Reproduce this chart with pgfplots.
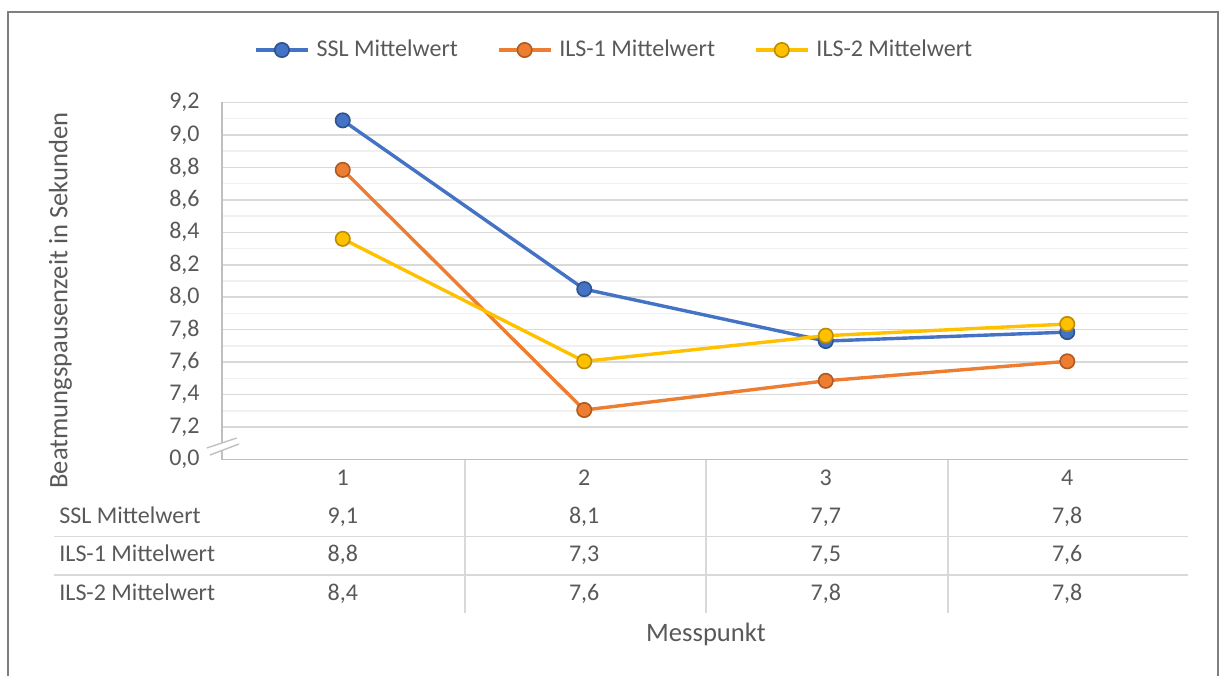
\documentclass[border=0pt]{standalone}
\usepackage{fontspec}
\setmainfont{Carlito}
\usepackage{pgfplots}
\pgfplotsset{compat=1.18}
\definecolor{txt}{HTML}{595959}
\definecolor{cBlue}{HTML}{4472C4}
\definecolor{cBlueD}{HTML}{2F528F}
\definecolor{cOr}{HTML}{ED7D31}
\definecolor{cOrD}{HTML}{AE5A21}
\definecolor{cYe}{HTML}{FFC000}
\definecolor{cYeD}{HTML}{BC8C00}
\definecolor{gridc}{HTML}{D9D9D9}
\definecolor{mgridc}{HTML}{F0F0F0}
\definecolor{axl}{HTML}{BFBFBF}
\definecolor{frame}{HTML}{7F7F7F}
\begin{document}
\begin{tikzpicture}[font=\fontsize{12}{14}\selectfont, text=txt]
\path[use as bounding box] (-111pt,-107.75pt) rectangle (498.5pt,229.75pt);
\begin{axis}[
  at={(0,0)}, anchor=south west,
  scale only axis, width=483pt, height=178.5pt,
  xmin=0.5, xmax=4.5, ymin=7.0, ymax=9.2,
  xtick={1,2,3,4},
  ytick={7,7.2,7.4,7.6,7.8,8,8.2,8.4,8.6,8.8,9,9.2},
  yticklabels={{0,0},{7,2},{7,4},{7,6},{7,8},{8,0},{8,2},{8,4},{8,6},{8,8},{9,0},{9,2}},
  minor ytick={7.3,7.5,7.7,7.9,8.1,8.3,8.5,8.7,8.9,9.1},
  ymajorgrids, yminorgrids,
  major grid style={gridc, line width=0.75pt},
  minor grid style={mgridc, line width=0.75pt},
  major tick length=0pt, minor tick length=0pt,
  axis line style={draw=none},
  /pgf/number format/assume math mode=true,
  tick label style={font=\fontsize{12}{14}\selectfont, text=txt},
  yticklabel style={anchor=east, inner sep=0pt, xshift=-11pt},
  xticklabel style={anchor=base, inner sep=0pt, yshift=-13.1pt},
  clip=false,
  legend columns=3,
  legend cell align=left,
  legend image code/.code={%
    \draw[mark repeat=2,mark phase=2,#1] plot coordinates {(0pt,0pt) (13pt,0pt) (26pt,0pt)};
    \path (29.5pt,0pt);},
  legend style={at={(0.405,1.147)}, anchor=center, draw=none, fill=none,
    nodes={inner sep=0pt, text=txt}, font=\fontsize{12}{14}\selectfont,
    column sep=0pt,
    /tikz/every even column/.append style={column sep=19.5pt}},
]
\addplot[cBlue, line width=1.7pt, mark=*, mark size=3.6pt,
  mark options={fill=cBlue, draw=cBlueD, line width=0.8pt}]
  coordinates {(1,9.09) (2,8.05) (3,7.73) (4,7.785)};
\addlegendentry{SSL Mittelwert}
\addplot[cOr, line width=1.7pt, mark=*, mark size=3.6pt,
  mark options={fill=cOr, draw=cOrD, line width=0.8pt}]
  coordinates {(1,8.785) (2,7.305) (3,7.485) (4,7.605)};
\addlegendentry{ILS-1 Mittelwert}
\addplot[cYe, line width=1.7pt, mark=*, mark size=3.6pt,
  mark options={fill=cYe, draw=cYeD, line width=0.8pt}]
  coordinates {(1,8.36) (2,7.605) (3,7.763) (4,7.835)};
\addlegendentry{ILS-2 Mittelwert}
\end{axis}
% axis lines
\draw[axl, line width=0.8pt] (0,178.5pt) -- (0,0) -- (483pt,0);
% axis break marks
\fill[white] (-7.65pt,5.75pt) -- (7.35pt,10.75pt) -- (8.5pt,7.75pt) -- (-6pt,2.25pt) -- cycle;
\draw[axl, line width=0.7pt] (-7.65pt,5.75pt) -- (7.35pt,10.75pt);
\draw[axl, line width=0.7pt] (-6pt,2.25pt) -- (8.5pt,7.75pt);
% data table grid
\draw[gridc, line width=0.75pt] (-83.85pt,-38.6pt) -- (483pt,-38.6pt);
\draw[gridc, line width=0.75pt] (-83.85pt,-57.75pt) -- (483pt,-57.75pt);
\foreach \x in {121.5,242,363} {\draw[gridc, line width=0.75pt] (\x pt,0pt) -- (\x pt,-76.6pt);}
% row labels
\node[anchor=base west, inner sep=0pt] at (-81.5pt,-31.9pt) {SSL Mittelwert};
\node[anchor=base west, inner sep=0pt] at (-81.5pt,-51.2pt) {ILS-1 Mittelwert};
\node[anchor=base west, inner sep=0pt] at (-81.5pt,-70.4pt) {ILS-2 Mittelwert};
% values
\node[anchor=base, inner sep=0pt] at (60.4pt,-31.9pt) {9,1};
\node[anchor=base, inner sep=0pt] at (181.1pt,-31.9pt) {8,1};
\node[anchor=base, inner sep=0pt] at (301.9pt,-31.9pt) {7,7};
\node[anchor=base, inner sep=0pt] at (422.6pt,-31.9pt) {7,8};
\node[anchor=base, inner sep=0pt] at (60.4pt,-51.2pt) {8,8};
\node[anchor=base, inner sep=0pt] at (181.1pt,-51.2pt) {7,3};
\node[anchor=base, inner sep=0pt] at (301.9pt,-51.2pt) {7,5};
\node[anchor=base, inner sep=0pt] at (422.6pt,-51.2pt) {7,6};
\node[anchor=base, inner sep=0pt] at (60.4pt,-70.4pt) {8,4};
\node[anchor=base, inner sep=0pt] at (181.1pt,-70.4pt) {7,6};
\node[anchor=base, inner sep=0pt] at (301.9pt,-70.4pt) {7,8};
\node[anchor=base, inner sep=0pt] at (422.6pt,-70.4pt) {7,8};
% axis titles
\node[anchor=base, inner sep=0pt, font=\fontsize{13.3}{16}\selectfont] at (242pt,-90.75pt) {Messpunkt};
\node[anchor=base, rotate=90, inner sep=0pt, font=\fontsize{13.3}{16}\selectfont] at (-77.25pt,79.5pt) {Beatmungspausenzeit in Sekunden};
% chart frame
\draw[frame, line width=1pt] (-106.75pt,-120pt) -- (-106.75pt,223.5pt) -- (497.75pt,223.5pt) -- (497.75pt,-120pt);
\end{tikzpicture}
\end{document}
